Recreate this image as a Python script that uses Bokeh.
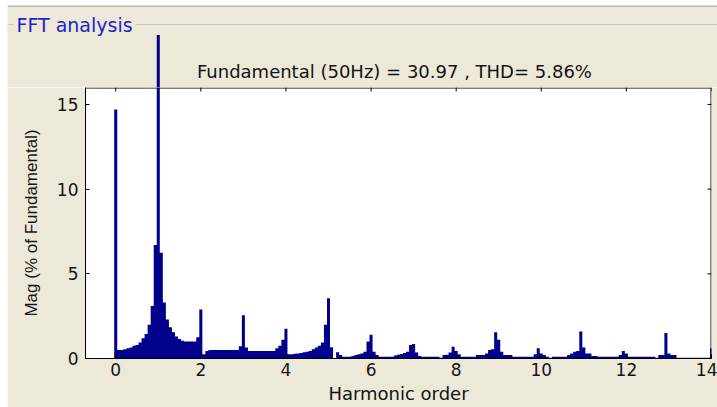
import numpy as np
from bokeh.plotting import figure
from bokeh.layouts import column, row
from bokeh.models import Range1d, Label, FixedTicker, Span
from bokeh.embed import file_html
from bokeh.resources import INLINE

# ---------------- data ----------------
bins_per_harmonic = 14
# FFT magnitude (% of fundamental), one value per bin, 14 bins per harmonic
mag = [
    14.7, 0.5, 0.5, 0.55, 0.6, 0.65, 0.75, 0.8, 0.95, 1.2, 1.45, 2.0, 3.1, 6.7,
    19.1, 6.25, 3.3, 2.3, 1.85, 1.55, 1.3, 1.15, 1.05, 1.0, 1.0, 1.0, 1.0, 1.25,
    2.9, 0.25, 0.45, 0.5, 0.5, 0.5, 0.5, 0.5, 0.5, 0.5, 0.5, 0.5, 0.5, 0.72,
    2.55, 0.65, 0.45, 0.45, 0.45, 0.45, 0.45, 0.45, 0.45, 0.45, 0.45, 0.6, 0.75, 1.1,
    1.75, 0.25, 0.25, 0.28, 0.3, 0.33, 0.37, 0.4, 0.45, 0.55, 0.65, 0.75, 0.95, 2.0,
    3.55, 0.66, 0.0, 0.37, 0.2, 0.1, 0.1, 0.1, 0.15, 0.2, 0.25, 0.3, 0.4, 1.0,
    1.4, 0.4, 0.2, 0.1, 0.1, 0.1, 0.1, 0.1, 0.18, 0.22, 0.27, 0.32, 0.4, 0.8,
    0.85, 0.35, 0.15, 0.1, 0.1, 0.1, 0.1, 0.1, 0.1, 0.05, 0.2, 0.22, 0.35, 0.7,
    0.45, 0.25, 0.1, 0.1, 0.1, 0.1, 0.1, 0.2, 0.2, 0.2, 0.3, 0.5, 0.55, 1.55,
    1.1, 0.4, 0.2, 0.2, 0.2, 0.1, 0.1, 0.1, 0.1, 0.1, 0.1, 0.1, 0.25, 0.6,
    0.3, 0.2, 0.1, 0.05, 0.1, 0.1, 0.1, 0.1, 0.1, 0.2, 0.3, 0.4, 0.45, 1.6,
    0.65, 0.3, 0.3, 0.15, 0.15, 0.1, 0.1, 0.1, 0.1, 0.1, 0.1, 0.1, 0.2, 0.45,
    0.3, 0.1, 0.1, 0.1, 0.1, 0.1, 0.1, 0.1, 0.1, 0.1, 0.05, 0.2, 0.2, 1.5,
    0.3, 0.2, 0.2, 0.05, 0.05, 0.05, 0.05, 0.05, 0.05, 0.05, 0.05, 0.05, 0.05, 0.05,
    0.6,
]
x_ticks = [0, 2, 4, 6, 8, 10, 12, 14]
y_ticks = [0, 5, 10, 15]
x_lim = (-0.71, 14.0)
y_lim = (0.0, 16.0)

panel_title = "FFT analysis"
plot_title = "Fundamental (50Hz) = 30.97 , THD= 5.86%"
x_label = "Harmonic order"
y_label = "Mag (% of Fundamental)"

# step outline of the bars: left edges of every bin plus the final right edge
half_bin = 0.5 / bins_per_harmonic
edges = np.append(np.arange(len(mag)) / bins_per_harmonic - half_bin,
                  (len(mag) - 1) / bins_per_harmonic + half_bin)
levels = np.append(mag, mag[-1])

# ---------------- styling / geometry ----------------
BEIGE = "#ECE9D8"
BAR = "#00008B"
TXT = "#141414"
W = 710
FRAME_L, FRAME_R = 78, 6
TOP_H = 82            # strip above the axes (title, group box, bar overshoot)
MAIN_H, FRAME_B = 320, 49
px_per_x = (W - FRAME_L - FRAME_R) / (x_lim[1] - x_lim[0])
px_per_y = (MAIN_H - FRAME_B) / (y_lim[1] - y_lim[0])

# ---------------- top strip ----------------
top_x = (x_lim[0] - FRAME_L / px_per_x, x_lim[1] + FRAME_R / px_per_x)
top_y = (y_lim[1], y_lim[1] + TOP_H / px_per_y)
top = figure(width=W, height=TOP_H, x_range=Range1d(*top_x), y_range=Range1d(*top_y),
             output_backend="svg", toolbar_location=None, title=None,
             x_axis_location=None, y_axis_location=None,
             min_border_left=0, min_border_right=0, min_border_top=0, min_border_bottom=0,
             background_fill_color=BEIGE, border_fill_color=BEIGE, outline_line_color=None)
top.margin = (5, 0, 0, 7)
top.grid.visible = False
top.varea_step(x=edges, y1=0, y2=levels, step_mode="after", fill_color=BAR)

def y_of_row(row_px):
    return top_y[1] - (row_px + 0.5) / px_per_y

top.add_layout(Span(location=y_of_row(0), dimension="width", line_color="#8c8c8c", line_width=1))
top.add_layout(Span(location=y_of_row(19), dimension="width", line_color="#a0a0a0", line_width=1))
top.add_layout(Span(location=y_of_row(20), dimension="width", line_color="white", line_width=1))
top.add_layout(Label(x=top_x[0] + 6 / px_per_x, y=y_of_row(19), text=panel_title,
                     text_align="left", text_baseline="middle", text_font="DejaVu Sans",
                     text_font_size="19px", text_color="#2323CC",
                     background_fill_color=BEIGE, padding=3))
top.add_layout(Label(x=6.55, y=y_of_row(65), text=plot_title, text_align="center",
                     text_baseline="middle", text_font="DejaVu Sans", text_font_size="18px",
                     text_color=TXT))

# ---------------- main axes ----------------
p = figure(width=W, height=MAIN_H, x_range=Range1d(*x_lim), y_range=Range1d(*y_lim),
           output_backend="svg", toolbar_location=None, title=None,
           min_border_left=FRAME_L, min_border_right=FRAME_R,
           min_border_top=0, min_border_bottom=FRAME_B,
           background_fill_color="white", border_fill_color=BEIGE,
           outline_line_color=None)
p.margin = (0, 0, 0, 7)
p.grid.visible = False

p.varea_step(x=edges, y1=0, y2=levels, step_mode="after", fill_color=BAR)

for ax in (p.xaxis[0], p.yaxis[0]):
    ax.major_tick_in = 4
    ax.major_tick_out = 0
    ax.minor_tick_line_color = None
    ax.axis_line_color = "black"
    ax.major_tick_line_color = "black"
    ax.major_label_text_font = "DejaVu Sans"
    ax.major_label_text_font_size = "17px"
    ax.major_label_text_color = TXT
    ax.axis_label_text_font_style = "normal"
    ax.axis_label_text_color = TXT

p.xaxis.ticker = FixedTicker(ticks=x_ticks)
p.xaxis.major_label_standoff = 4
p.xaxis.axis_label = x_label
p.xaxis.axis_label_text_font = "DejaVu Sans"
p.xaxis.axis_label_text_font_size = "18px"
p.xaxis.axis_label_standoff = 4

p.yaxis.ticker = FixedTicker(ticks=y_ticks)
p.yaxis.major_label_standoff = 7
p.yaxis.axis_label = y_label
p.yaxis.axis_label_text_font = "Liberation Sans"
p.yaxis.axis_label_text_font_size = "17px"
p.yaxis.axis_label_standoff = 13

# box top and right edges with their inward ticks
p.add_layout(Span(location=y_lim[1] - 0.5 / px_per_y, dimension="width",
                  line_color="black", line_width=1))
p.add_layout(Span(location=x_lim[1] - 0.5 / px_per_x, dimension="height",
                  line_color="black", line_width=1))
tick_len_y = 4 / px_per_y
tick_len_x = 4 / px_per_x
p.segment(x0=x_ticks, y0=[y_lim[1]] * len(x_ticks), x1=x_ticks,
          y1=[y_lim[1] - tick_len_y] * len(x_ticks), line_color="black", line_width=1)
p.segment(x0=[x_lim[1]] * len(y_ticks), y0=y_ticks, x1=[x_lim[1] - tick_len_x] * len(y_ticks),
          y1=y_ticks, line_color="black", line_width=1)

layout = column(row(top), row(p), spacing=0)
open("out.html", "w").write(file_html(layout, INLINE))
